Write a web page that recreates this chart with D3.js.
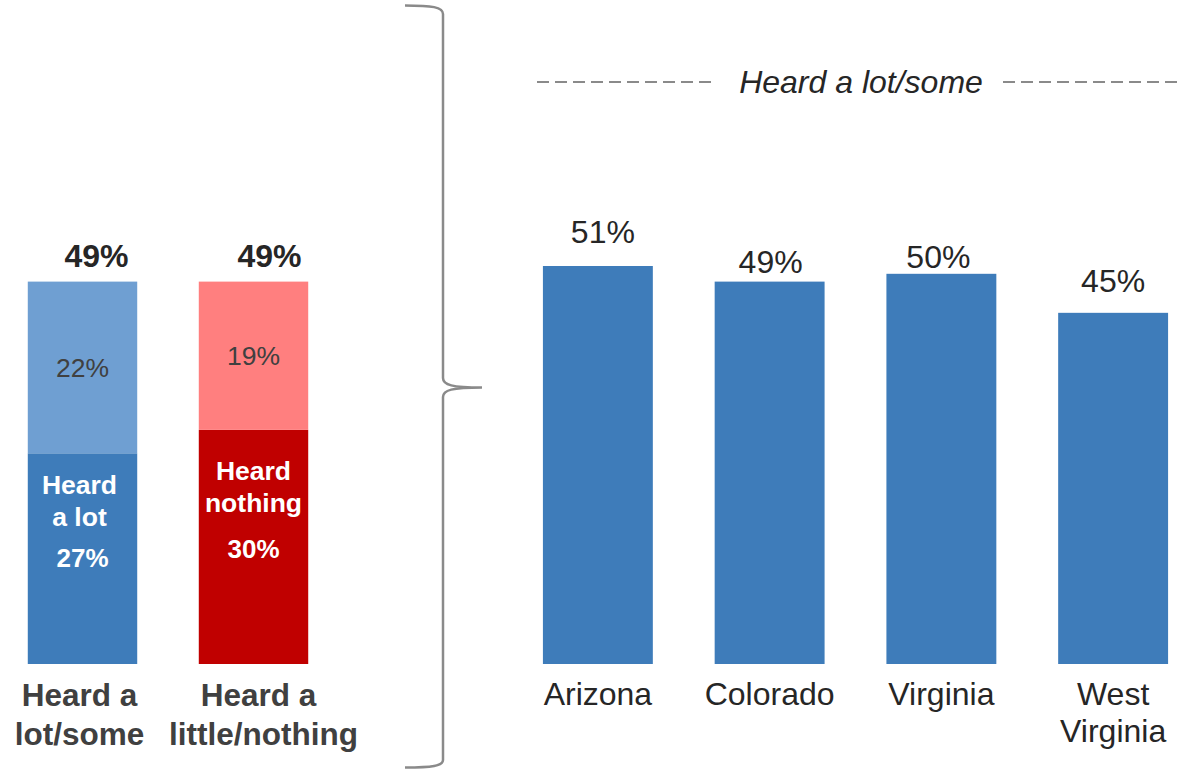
<!DOCTYPE html>
<html>
<head>
<meta charset="utf-8">
<script src="https://cdn.jsdelivr.net/npm/d3@7/dist/d3.min.js"></script>
<style>
  html, body { margin: 0; padding: 0; background: #ffffff; }
  svg { display: block; font-family: "Liberation Sans", Arial, sans-serif; }
</style>
</head>
<body>
<svg id="chart" width="1183" height="769"></svg>
<script>
// ---- Data ----
const leftCategories = ["Heard a lot/some", "Heard a little/nothing"];
const leftCategoryLines = [["Heard a", "lot/some"], ["Heard a", "little/nothing"]];
const leftStrong = [27, 30];          // Heard a lot / Heard nothing
const leftWeak = [22, 19];            // Heard some / Heard a little
const leftTotals = [49, 49];
const leftStrongLabels = [["Heard", "a lot"], ["Heard", "nothing"]];

const states = ["Arizona", "Colorado", "Virginia", "West Virginia"];
const stateLines = [["Arizona"], ["Colorado"], ["Virginia"], ["West", "Virginia"]];
const stateValues = [51, 49, 50, 45];
const headerText = "Heard a lot/some";

// ---- Layout / style constants ----
const colors = {
  blue: "#3e7cba", lightBlue: "#6f9fd2", red: "#c00000", pink: "#ff7f7f",
  text: "#262626", gray: "#404040", line: "#8a8a8a"
};
const valueLabelGap = [23, 9, 6, 21];   // label baseline above bar top
const valueLabelDx = [5, 1, -3, 0];

const svg = d3.select("#chart");

const y = d3.scaleLinear().domain([0, 51]).range([664, 266]);

// ---- Left stacked bars ----
const xL = d3.scaleBand().domain(leftCategories).range([-3, 339])
  .paddingInner(0.36).paddingOuter(0.18);

const gL = svg.append("g");
const strongColors = [colors.blue, colors.red];
const weakColors = [colors.lightBlue, colors.pink];

leftCategories.forEach((c, i) => {
  const x0 = xL(c), bw = xL.bandwidth(), cx = x0 + bw / 2;
  // strong segment (bottom)
  gL.append("rect").attr("x", x0).attr("width", bw)
    .attr("y", y(leftStrong[i])).attr("height", y(0) - y(leftStrong[i]))
    .attr("fill", strongColors[i]);
  // weak segment (top)
  gL.append("rect").attr("x", x0).attr("width", bw)
    .attr("y", y(leftStrong[i] + leftWeak[i]))
    .attr("height", y(leftStrong[i]) - y(leftStrong[i] + leftWeak[i]))
    .attr("fill", weakColors[i]);
  // weak label
  const midW = (y(leftStrong[i]) + y(leftStrong[i] + leftWeak[i])) / 2;
  gL.append("text").attr("x", cx).attr("y", midW + 9.5)
    .attr("text-anchor", "middle").attr("font-size", 26.5)
    .attr("fill", colors.gray).text(leftWeak[i] + "%");
  // strong label lines
  const topS = y(leftStrong[i]);
  const lines = leftStrongLabels[i];
  lines.forEach((t, k) => {
    gL.append("text").attr("x", cx - (i === 0 ? 3 : 0))
      .attr("y", topS + (i === 0 ? 41 : 50) + k * 32)
      .attr("text-anchor", "middle").attr("font-size", 26.5).attr("font-weight", "bold")
      .attr("fill", "#ffffff").text(t);
  });
  gL.append("text").attr("x", cx).attr("y", topS + (i === 0 ? 114 : 128))
    .attr("text-anchor", "middle").attr("font-size", 26).attr("font-weight", "bold")
    .attr("fill", "#ffffff").text(leftStrong[i] + "%");
  // total label
  gL.append("text").attr("x", cx + 14 + i * 2).attr("y", y(leftTotals[i]) - 14.5)
    .attr("text-anchor", "middle").attr("font-size", 32).attr("font-weight", "bold")
    .attr("fill", colors.text).text(leftTotals[i] + "%");
  // category label
  leftCategoryLines[i].forEach((t, k) => {
    gL.append("text").attr("x", cx - 3 + i * (k === 0 ? 8 : 13)).attr("y", 706 + k * 39)
      .attr("text-anchor", "middle").attr("font-size", 31.5).attr("font-weight", "bold")
      .attr("fill", colors.gray).text(t);
  });
});

// ---- Brace ----
svg.append("path")
  .attr("d", "M405,5.5 C432,5.5 443,7 443,14 L443,378 C443,385 452,387.5 482,387.5 " +
             "C452,387.5 443,390 443,397 L443,760 C443,766 432,767.5 405,767.5")
  .attr("fill", "none").attr("stroke", colors.line).attr("stroke-width", 2.5);

// ---- Right bars ----
const xR = d3.scaleBand().domain(states).range([512, 1199])
  .paddingInner(0.36).paddingOuter(0.18);
const gR = svg.append("g");

gR.selectAll("rect.bar").data(states).join("rect")
  .attr("class", "bar")
  .attr("x", d => xR(d)).attr("width", xR.bandwidth())
  .attr("y", (d, i) => y(stateValues[i]))
  .attr("height", (d, i) => y(0) - y(stateValues[i]))
  .attr("fill", colors.blue);

gR.selectAll("text.val").data(states).join("text")
  .attr("class", "val")
  .attr("x", (d, i) => xR(d) + xR.bandwidth() / 2 + valueLabelDx[i])
  .attr("y", (d, i) => y(stateValues[i]) - valueLabelGap[i])
  .attr("text-anchor", "middle").attr("font-size", 32)
  .attr("fill", colors.text).text((d, i) => stateValues[i] + "%");

states.forEach((s, i) => {
  stateLines[i].forEach((t, k) => {
    gR.append("text").attr("x", xR(s) + xR.bandwidth() / 2).attr("y", 705 + k * 37)
      .attr("text-anchor", "middle").attr("font-size", 32)
      .attr("fill", colors.text).text(t);
  });
});

// ---- Header with dashed lines ----
const headerX = 861;
svg.append("text").attr("x", headerX).attr("y", 93)
  .attr("text-anchor", "middle").attr("font-size", 32).attr("font-style", "italic")
  .attr("fill", colors.text).text(headerText);
svg.append("line").attr("x1", 537).attr("x2", 716).attr("y1", 82).attr("y2", 82)
  .attr("stroke", colors.line).attr("stroke-width", 2).attr("stroke-dasharray", "12,6");
svg.append("line").attr("x1", 1003).attr("x2", 1183).attr("y1", 82).attr("y2", 82)
  .attr("stroke", colors.line).attr("stroke-width", 2).attr("stroke-dasharray", "12,6");
</script>
</body>
</html>
